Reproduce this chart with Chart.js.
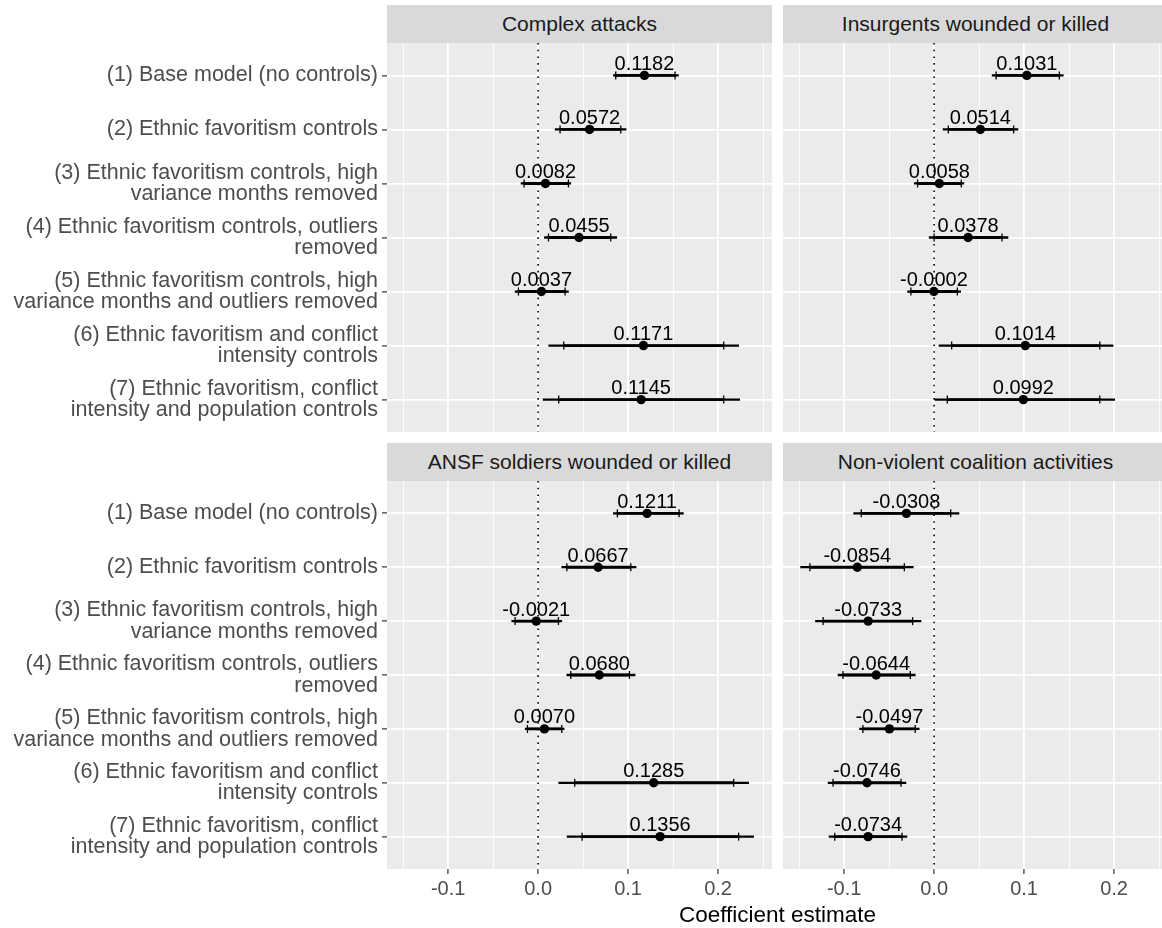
<!DOCTYPE html>
<html>
<head>
<meta charset="utf-8">
<script src="https://cdn.jsdelivr.net/npm/chart.js@4.4.1/dist/chart.umd.min.js"></script>
<style>
  html, body { margin: 0; padding: 0; background: #fff; }
  #wrap { position: relative; width: 1162px; height: 928px; overflow: hidden; font-family: 'Liberation Sans', Arial, sans-serif; }
  canvas { position: absolute; }
  .strip { position: absolute; width: 385px; height: 38px; line-height: 38px; background: #d9d9d9; color: #1a1a1a; font-size: 21px; text-align: center; }
  #xtitle { position: absolute; left: 387px; width: 781px; top: 901px; height: 28px; line-height: 28px; text-align: center; font-size: 22.5px; color: #000; }
</style>
</head>
<body>
<div id="wrap">
  <canvas id="c1" width="772" height="389" style="left:0;top:43px"></canvas>
  <canvas id="c2" width="385" height="389" style="left:783px;top:43px"></canvas>
  <canvas id="c3" width="772" height="447" style="left:0;top:481px"></canvas>
  <canvas id="c4" width="385" height="447" style="left:783px;top:481px"></canvas>
  <div class="strip" id="s1" style="left:387px;top:5px"></div>
  <div class="strip" id="s2" style="left:783px;top:5px"></div>
  <div class="strip" id="s3" style="left:387px;top:443px"></div>
  <div class="strip" id="s4" style="left:783px;top:443px"></div>
  <div id="xtitle">Coefficient estimate</div>
</div>
<script>
// model specifications (y categories), one entry per row
const models = [
  ['(1) Base model (no controls)'],
  ['(2) Ethnic favoritism controls'],
  ['(3) Ethnic favoritism controls, high', 'variance months removed'],
  ['(4) Ethnic favoritism controls, outliers', 'removed'],
  ['(5) Ethnic favoritism controls, high', 'variance months and outliers removed'],
  ['(6) Ethnic favoritism and conflict', 'intensity controls'],
  ['(7) Ethnic favoritism, conflict', 'intensity and population controls']
];
const rows = [1, 2, 3, 4, 5, 6, 7];
const outcomes = ['Complex attacks', 'Insurgents wounded or killed',
                  'ANSF soldiers wounded or killed', 'Non-violent coalition activities'];
const zeroRef = 0;

// Complex attacks
const complexEst  = [0.1182, 0.0572, 0.0082, 0.0455, 0.0037, 0.1171, 0.1145];
const complexLo95 = [0.0837, 0.0189, -0.0189, 0.0070, -0.0256, 0.0118, 0.0055];
const complexLo90 = [0.0863, 0.0244, -0.0156, 0.0115, -0.0219, 0.0285, 0.0229];
const complexHi90 = [0.1522, 0.0919, 0.0337, 0.0807, 0.0300, 0.2063, 0.2063];
const complexHi95 = [0.1559, 0.0978, 0.0363, 0.0874, 0.0337, 0.2229, 0.2241];

// Insurgents wounded or killed
const insurgEst  = [0.1031, 0.0514, 0.0058, 0.0378, -0.0002, 0.1014, 0.0992];
const insurgLo95 = [0.0645, 0.0099, -0.0221, -0.0055, -0.0295, 0.0055, 0.0000];
const insurgLo90 = [0.0689, 0.0158, -0.0184, 0.0000, -0.0258, 0.0195, 0.0147];
const insurgHi90 = [0.1392, 0.0884, 0.0302, 0.0755, 0.0258, 0.1842, 0.1842];
const insurgHi95 = [0.1436, 0.0932, 0.0331, 0.0821, 0.0295, 0.1989, 0.2007];

// ANSF soldiers wounded or killed
const ansfEst  = [0.1211, 0.0667, -0.0021, 0.0680, 0.0070, 0.1285, 0.1356];
const ansfLo95 = [0.0837, 0.0263, -0.0293, 0.0319, -0.0144, 0.0229, 0.0322];
const ansfLo90 = [0.0881, 0.0319, -0.0256, 0.0363, -0.0119, 0.0407, 0.0489];
const ansfHi90 = [0.1567, 0.1030, 0.0226, 0.1015, 0.0263, 0.2174, 0.2229];
const ansfHi95 = [0.1615, 0.1089, 0.0263, 0.1078, 0.0289, 0.2341, 0.2396];

// Non-violent coalition activities
const nonvEst  = [-0.0308, -0.0854, -0.0733, -0.0644, -0.0497, -0.0746, -0.0734];
const nonvLo95 = [-0.0895, -0.1484, -0.1319, -0.1068, -0.0829, -0.1179, -0.1168];
const nonvLo90 = [-0.0810, -0.1381, -0.1234, -0.1013, -0.0792, -0.1124, -0.1105];
const nonvHi90 = [0.0184, -0.0331, -0.0239, -0.0265, -0.0210, -0.0368, -0.0357];
const nonvHi95 = [0.0276, -0.0232, -0.0147, -0.0210, -0.0166, -0.0313, -0.0302];

const xMin = -0.168, xMax = 0.26;
const yMin = 0.4, yMax = 7.6;
const FONT = "'Liberation Sans', Arial, sans-serif";

function isMajor(v) {
  return Math.abs(Math.round(v * 100)) % 10 === 0;
}

// grey panel background like ggplot
const panelBg = {
  id: 'panelBg',
  beforeDraw(chart) {
    const { ctx, chartArea: a } = chart;
    ctx.save();
    ctx.fillStyle = '#ebebeb';
    ctx.fillRect(a.left, a.top, a.right - a.left, a.bottom - a.top);
    ctx.restore();
  }
};

// estimate value written above each point
const estLabels = {
  id: 'estLabels',
  afterDatasetsDraw(chart) {
    const ctx = chart.ctx;
    const ds = chart.data.datasets[4];
    const meta = chart.getDatasetMeta(4);
    ctx.save();
    ctx.fillStyle = '#000';
    ctx.font = '20px ' + FONT;
    ctx.textAlign = 'center';
    ctx.textBaseline = 'alphabetic';
    meta.data.forEach((pt, i) => {
      ctx.fillText(ds.data[i].x.toFixed(4), pt.x, pt.y - 5.5);
    });
    ctx.restore();
  }
};

function makePanel(id, est, lo95, lo90, hi90, hi95, showY, showX) {
  new Chart(document.getElementById(id), {
    type: 'scatter',
    data: {
      datasets: [
        {
          type: 'line',
          data: [{ x: zeroRef, y: yMin }, { x: zeroRef, y: yMax }],
          borderColor: '#000', borderWidth: 1.6, borderDash: [1.6, 5.1],
          pointRadius: 0, fill: false, order: 5
        },
        {
          type: 'bar', indexAxis: 'y', grouped: false,
          data: rows.map((r, i) => ({ x: [lo95[i], hi95[i]], y: r })),
          backgroundColor: '#000', borderWidth: 0, barThickness: 1.6, order: 4
        },
        {
          type: 'bar', indexAxis: 'y', grouped: false,
          data: rows.map((r, i) => ({ x: [lo90[i], hi90[i]], y: r })),
          backgroundColor: '#000', borderWidth: 0, barThickness: 2.2, order: 3
        },
        {
          type: 'scatter',
          data: rows.flatMap((r, i) => [{ x: lo90[i], y: r }, { x: hi90[i], y: r }]),
          pointStyle: 'line', rotation: 90, pointRadius: 4,
          borderColor: '#000', borderWidth: 1.3, order: 2
        },
        {
          type: 'scatter',
          data: rows.map((r, i) => ({ x: est[i], y: r })),
          pointStyle: 'circle', pointRadius: 4.7,
          backgroundColor: '#000', borderWidth: 0, order: 1
        }
      ]
    },
    options: {
      responsive: false,
      maintainAspectRatio: false,
      animation: false,
      events: [],
      layout: { padding: 0, autoPadding: false },
      plugins: { legend: { display: false }, tooltip: { enabled: false } },
      scales: {
        x: {
          type: 'linear', min: xMin, max: xMax, offset: false,
          ticks: {
            display: showX, stepSize: 0.05, includeBounds: false, autoSkip: false,
            maxRotation: 0, padding: 3, color: '#4d4d4d',
            font: { family: FONT, size: 20 },
            callback: v => isMajor(v) ? (Math.round(v * 10) / 10).toFixed(1) : ''
          },
          grid: {
            offset: false,
            color: '#ffffff',
            lineWidth: c => (c.tick && isMajor(c.tick.value)) ? 1.8 : 0.9,
            drawTicks: showX, tickLength: 5, tickWidth: 1.2,
            tickColor: c => (c.tick && isMajor(c.tick.value)) ? '#333333' : 'rgba(0,0,0,0)'
          },
          border: { display: false },
          afterFit: s => { s.height = showX ? 59 : 0; s.paddingLeft = 0; s.paddingRight = 0; }
        },
        y: {
          type: 'linear', min: yMin, max: yMax, reverse: true, offset: false,
          ticks: {
            display: showY, stepSize: 1, includeBounds: false, autoSkip: false,
            padding: 4, color: '#4d4d4d',
            font: { family: FONT, size: 21.5, lineHeight: 1.0 },
            callback: v => models[Math.round(v) - 1] || ''
          },
          grid: {
            offset: false, color: '#ffffff', lineWidth: 1.8,
            drawTicks: showY, tickLength: 5, tickWidth: 1.2, tickColor: '#333333'
          },
          border: { display: false },
          afterFit: s => { s.width = showY ? 387 : 0; s.paddingTop = 0; s.paddingBottom = 0; }
        }
      }
    },
    plugins: [panelBg, estLabels]
  });
}

['s1', 's2', 's3', 's4'].forEach((id, i) => {
  document.getElementById(id).textContent = outcomes[i];
});

makePanel('c1', complexEst, complexLo95, complexLo90, complexHi90, complexHi95, true, false);
makePanel('c2', insurgEst, insurgLo95, insurgLo90, insurgHi90, insurgHi95, false, false);
makePanel('c3', ansfEst, ansfLo95, ansfLo90, ansfHi90, ansfHi95, true, true);
makePanel('c4', nonvEst, nonvLo95, nonvLo90, nonvHi90, nonvHi95, false, true);
</script>
</body>
</html>
